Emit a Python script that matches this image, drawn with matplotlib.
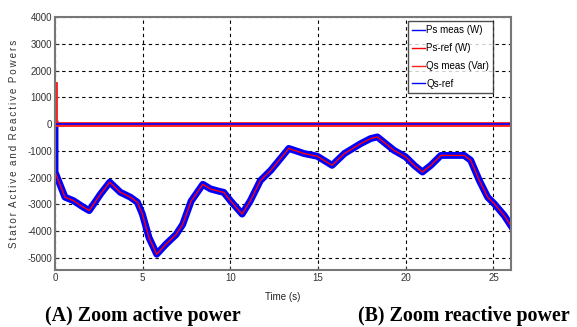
import numpy as np
import matplotlib
matplotlib.use("Agg")
import matplotlib.pyplot as plt
from matplotlib.ticker import FuncFormatter

# Stator active power (W) read along the time axis (s)
t_ps = [0.0, 0.0, 0.57, 1.05, 1.63, 1.95, 2.6, 3.12, 3.73, 4.3, 4.7, 4.98,
        5.36, 5.8, 6.32, 6.9, 7.28, 7.76, 8.43, 8.86, 9.3, 9.62, 10.0, 10.67,
        11.14, 11.71, 12.3, 13.33, 14.2, 14.95, 15.8, 16.5, 17.43, 18.0, 18.38,
        19.33, 20.0, 20.48, 20.95, 21.43, 22.0, 23.33, 23.7, 24.19, 24.67,
        25.05, 25.62, 26.0]
ps_ref = [0, -1790, -2730, -2860, -3110, -3230, -2610, -2170, -2550, -2730,
          -2920, -3360, -4240, -4860, -4490, -4130, -3750, -2880, -2250, -2420,
          -2500, -2550, -2860, -3360, -2860, -2110, -1730, -910, -1100, -1200,
          -1540, -1100, -730, -540, -480, -980, -1230, -1540, -1790, -1540,
          -1170, -1170, -1350, -2100, -2730, -2980, -3420, -3800]

# Stator reactive power (Var): start-up transient then held at zero
t_qs = [0.0, 0.0, 26.0]
qs_meas = [1500, 0, 0]
qs_ref = [0, 0, 0]

x_ticks = [0, 5, 10, 15, 20, 25]
y_ticks = [4000, 3000, 2000, 1000, 0, -1000, -2000, -3000, -4000, -5000]

sans = ["Liberation Sans", "DejaVu Sans"]

fig = plt.figure(figsize=(5.77, 3.27), dpi=100)
ax = fig.add_axes([55 / 577, 1 - 270 / 327, 456 / 577, 253 / 327])

ax.plot(t_ps, ps_ref, color="#0000ff", lw=5.0, label="Ps meas (W)",
        solid_joinstyle="round")
ax.plot(t_ps, ps_ref, color="#ff0000", lw=1.0, label="Ps-ref (W)")
ax.plot(t_qs, qs_meas, color="#ff2020", lw=3.5, label="Qs meas (Var)")
ax.plot(t_qs, qs_ref, color="#0000ff", lw=1.2, label="Qs-ref")

ax.set_xlim(0, 26)
ax.set_ylim(-5450, 4000)
ax.set_xticks(x_ticks)
ax.set_yticks(y_ticks)
ax.xaxis.set_major_formatter(FuncFormatter(lambda v, p: f"{v:g}"))
ax.yaxis.set_major_formatter(FuncFormatter(lambda v, p: f"{int(v)}"))
ax.grid(True, color="black", linestyle=(0, (3, 3)), lw=0.8)
ax.tick_params(direction="in", length=3, labelsize=7, colors="#333333", pad=2)
for lbl in ax.get_xticklabels() + ax.get_yticklabels():
    lbl.set_family(sans)
for s in ax.spines.values():
    s.set_color("#777777")
    s.set_linewidth(1.5)

ax.set_xlabel("Time (s)", fontsize=7, family=sans, labelpad=7, color="#222222")
ylab = "\u2009".join("Stator") + "  " + "\u2009".join("Active") + "  " + \
    "\u2009".join("and") + "  " + "\u2009".join("Reactive") + "  " + "\u2009".join("Powers")
ax.set_ylabel(ylab, fontsize=7, family=sans, labelpad=6, color="#333333")

leg = ax.legend(loc="upper right", bbox_to_anchor=(0.965, 0.99),
                prop={"family": sans, "size": 7}, frameon=True,
                fancybox=False, handlelength=1.4, handletextpad=0.1,
                labelspacing=0.8, borderpad=0.4, borderaxespad=0.2)
leg.get_frame().set_edgecolor("#222222")
leg.get_frame().set_linewidth(1.0)
for h in leg.get_lines():
    h.set_linewidth(1.0)

fig.text(45 / 577, 1 - 316 / 327, "(A) Zoom active power", fontsize=14.4,
         family="Liberation Serif", weight="bold", va="center", ha="left")
fig.text(358 / 577, 1 - 316 / 327, "(B) Zoom reactive power", fontsize=14.4,
         family="Liberation Serif", weight="bold", va="center", ha="left")

fig.savefig("out.png", dpi=100)
